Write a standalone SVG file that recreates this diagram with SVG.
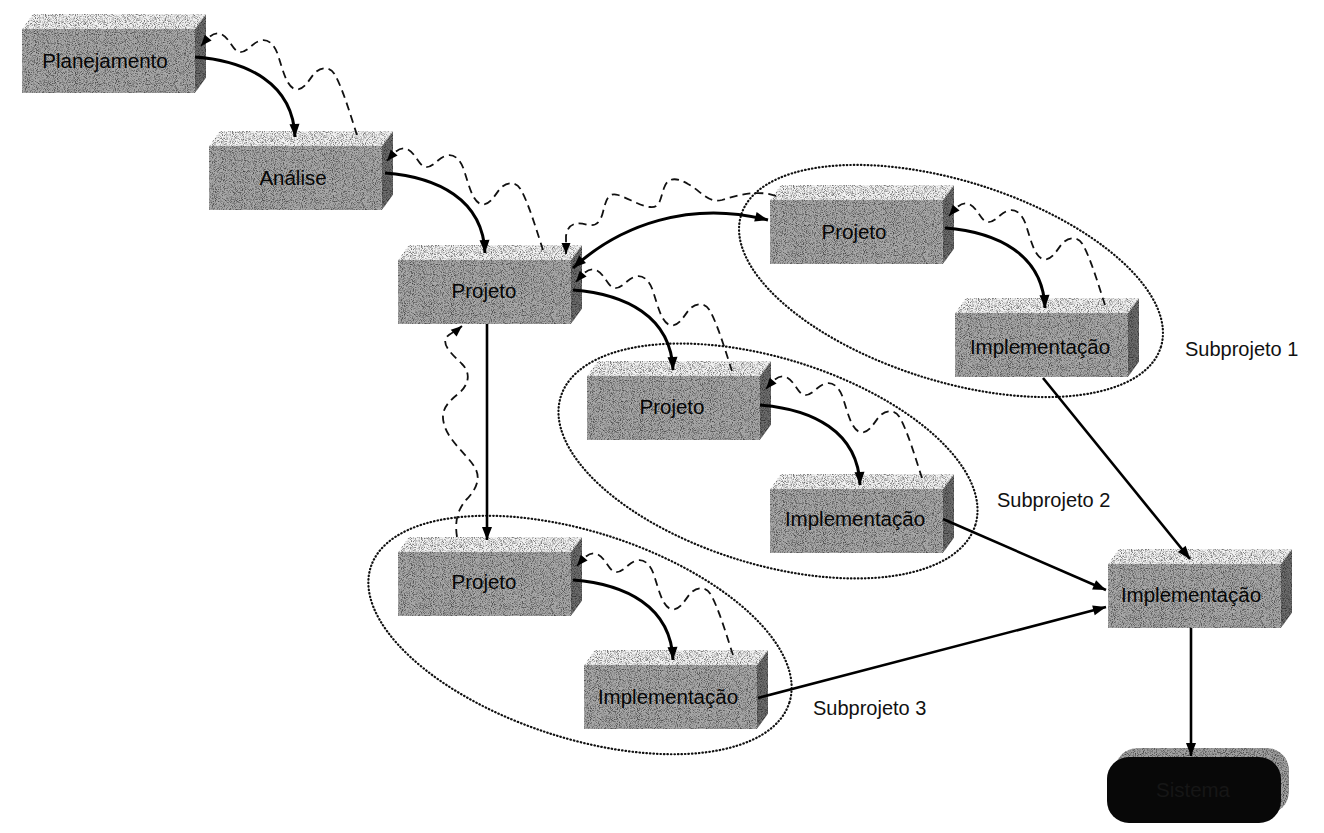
<svg xmlns="http://www.w3.org/2000/svg" xmlns:xlink="http://www.w3.org/1999/xlink" width="1324" height="833" viewBox="0 0 1324 833">
  <style>
    .front { fill: #a8a8a8; }
    .top { fill: #f2f2f2; }
    .side { fill: #6c6c6c; }
    .label { font-family: "Liberation Sans", Arial, sans-serif; font-size: 20.5px; fill: #050505; text-anchor: middle; }
    .caption { font-family: "Liberation Sans", Arial, sans-serif; font-size: 20px; fill: #111; }
    .flow { fill: none; stroke: #000; stroke-width: 3; marker-end: url(#head); }
    .line { fill: none; stroke: #000; stroke-width: 2.6; marker-end: url(#head); }
    .back { fill: none; stroke: #111; stroke-width: 1.8; stroke-dasharray: 8 5; marker-end: url(#headSmall); }
    .group { fill: none; stroke: #111; stroke-width: 2.2; stroke-dasharray: 0.5 3; stroke-linecap: round; }
  </style>
  <defs>
    <!-- grainy print texture for the block faces -->
    <filter id="grain" x="-5%" y="-5%" width="110%" height="110%" color-interpolation-filters="sRGB">
      <feTurbulence type="fractalNoise" baseFrequency="1.1" numOctaves="1" seed="4" result="noise"/>
      <feColorMatrix in="noise" type="matrix" values="1.8 0 0 0 0.0  1.8 0 0 0 0.0  1.8 0 0 0 0.0  0 0 0 0 1" result="g"/>
      <feBlend in="SourceGraphic" in2="g" mode="multiply" result="b"/>
      <feComposite in="b" in2="SourceGraphic" operator="in"/>
    </filter>
    <marker id="head" markerUnits="userSpaceOnUse" markerWidth="15" markerHeight="12" refX="13" refY="5" orient="auto-start-reverse" overflow="visible">
      <path d="M0,0 L13,5 L0,10 z" fill="#000"/>
    </marker>
    <marker id="headSmall" markerUnits="userSpaceOnUse" markerWidth="13" markerHeight="10" refX="11" refY="4.5" orient="auto" overflow="visible">
      <path d="M0,0 L11,4.5 L0,9 z" fill="#000"/>
    </marker>
    <!-- 3D block: front face 173x64 with top and right faces -->
    <g id="box3d" filter="url(#grain)">
      <polygon class="top" points="0,0 11,-15 184,-15 173,0"/>
      <polygon class="side" points="173,0 184,-15 184,49 173,64"/>
      <rect class="front" x="0" y="0" width="173" height="64"/>
    </g>
    <!-- solid hand-off curve: from right face of one block down to the top of the next -->
    <path id="handoff" d="M0,0 C52,4 98,26 100,80"/>
    <!-- wavy feedback path back up to the previous block -->
    <path id="wave" d="M0,0 C-6,-18 -14,-46 -22,-60 C-26,-68 -36,-70 -44,-60 C-50,-52 -54,-44 -62,-46 C-70,-48 -74,-64 -79,-80 C-83,-92 -90,-97 -98,-94 C-106,-91 -110,-82 -118,-83 C-124,-84 -128,-98 -136,-101 C-144,-104 -150,-96 -156,-89"/>
  </defs>

  <rect width="1324" height="833" fill="#ffffff"/>

  <!-- subproject outlines -->
  <g id="subprojects">
    <ellipse class="group" cx="951" cy="281" rx="220" ry="100" transform="rotate(17.5 951 281)"/>
    <ellipse class="group" cx="768" cy="461" rx="217" ry="103" transform="rotate(17.2 768 461)"/>
    <ellipse class="group" cx="580" cy="635" rx="220" ry="103" transform="rotate(18 580 635)"/>
    <text class="caption" x="1185" y="356">Subprojeto 1</text>
    <text class="caption" x="997" y="507">Subprojeto 2</text>
    <text class="caption" x="813" y="715">Subprojeto 3</text>
  </g>

  <g id="planejamento">
    <use href="#box3d" x="22" y="29"/>
    <text class="label" x="105" y="68">Planejamento</text>
  </g>
  <g id="analise">
    <use href="#box3d" x="209" y="146"/>
    <text class="label" x="293" y="185">Análise</text>
  </g>
  <g id="projeto">
    <use href="#box3d" x="398" y="260"/>
    <text class="label" x="484" y="298">Projeto</text>
  </g>
  <g id="projeto-sub1">
    <use href="#box3d" x="770" y="200"/>
    <text class="label" x="854" y="239">Projeto</text>
  </g>
  <g id="implementacao-sub1">
    <use href="#box3d" x="955" y="313"/>
    <text class="label" x="1040" y="354">Implementação</text>
  </g>
  <g id="projeto-sub2">
    <use href="#box3d" x="587" y="376"/>
    <text class="label" x="672" y="414">Projeto</text>
  </g>
  <g id="implementacao-sub2">
    <use href="#box3d" x="770" y="489"/>
    <text class="label" x="855" y="526">Implementação</text>
  </g>
  <g id="projeto-sub3">
    <use href="#box3d" x="398" y="552"/>
    <text class="label" x="484" y="589">Projeto</text>
  </g>
  <g id="implementacao-sub3">
    <use href="#box3d" x="584" y="665"/>
    <text class="label" x="668" y="704">Implementação</text>
  </g>
  <g id="implementacao-final">
    <use href="#box3d" x="1108" y="564"/>
    <text class="label" x="1191" y="602">Implementação</text>
  </g>
  <g id="sistema">
    <rect x="1115" y="748" width="174" height="66" rx="22" fill="#a0a0a0" filter="url(#grain)"/>
    <rect x="1107" y="757" width="174" height="66" rx="22" fill="#080808"/>
    <text class="label" x="1193" y="797" style="fill:#161616">Sistema</text>
  </g>

  <g id="connectors">
    <!-- forward hand-offs -->
    <use href="#handoff" class="flow" transform="translate(195,57)"/>
    <use href="#handoff" class="flow" transform="translate(385,173)"/>
    <use href="#handoff" class="flow" transform="translate(573,290)"/>
    <use href="#handoff" class="flow" transform="translate(945,228)"/>
    <use href="#handoff" class="flow" transform="translate(760,405)"/>
    <use href="#handoff" class="flow" transform="translate(573,580)"/>
    <path class="flow" d="M573,268 C620,225 690,200 768,220" style="marker-start:url(#head)"/>
    <path class="line" d="M487,324 L487,540"/>
    <path class="line" d="M1043,378 L1190,559"/>
    <path class="line" d="M943,519 L1106,590"/>
    <path class="line" d="M758,698 L1106,607"/>
    <path class="line" d="M1191,628 L1191,756"/>
    <!-- feedback waves -->
    <use href="#wave" class="back" transform="translate(357,135)"/>
    <use href="#wave" class="back" transform="translate(543,250)"/>
    <use href="#wave" class="back" transform="translate(732,371)"/>
    <use href="#wave" class="back" transform="translate(1105,305)"/>
    <use href="#wave" class="back" transform="translate(922,478)"/>
    <use href="#wave" class="back" transform="translate(733,655)"/>
    <path class="back" d="M776,196 C760,190 740,194 722,200 C708,204 700,190 688,184 C678,178 668,176 664,188 C660,200 660,208 650,207 C640,206 628,198 618,195 C608,192 606,200 603,212 C600,224 595,226 588,225 C578,222 568,222 566,236 L566,254"/>
    <path class="back" d="M457,537 C455,524 456,512 466,500 C476,490 482,478 474,466 C466,454 448,440 444,424 C440,410 448,402 458,394 C468,386 472,374 462,364 C454,356 442,346 446,338 C448,334 455,332 462,326"/>
  </g>
</svg>
